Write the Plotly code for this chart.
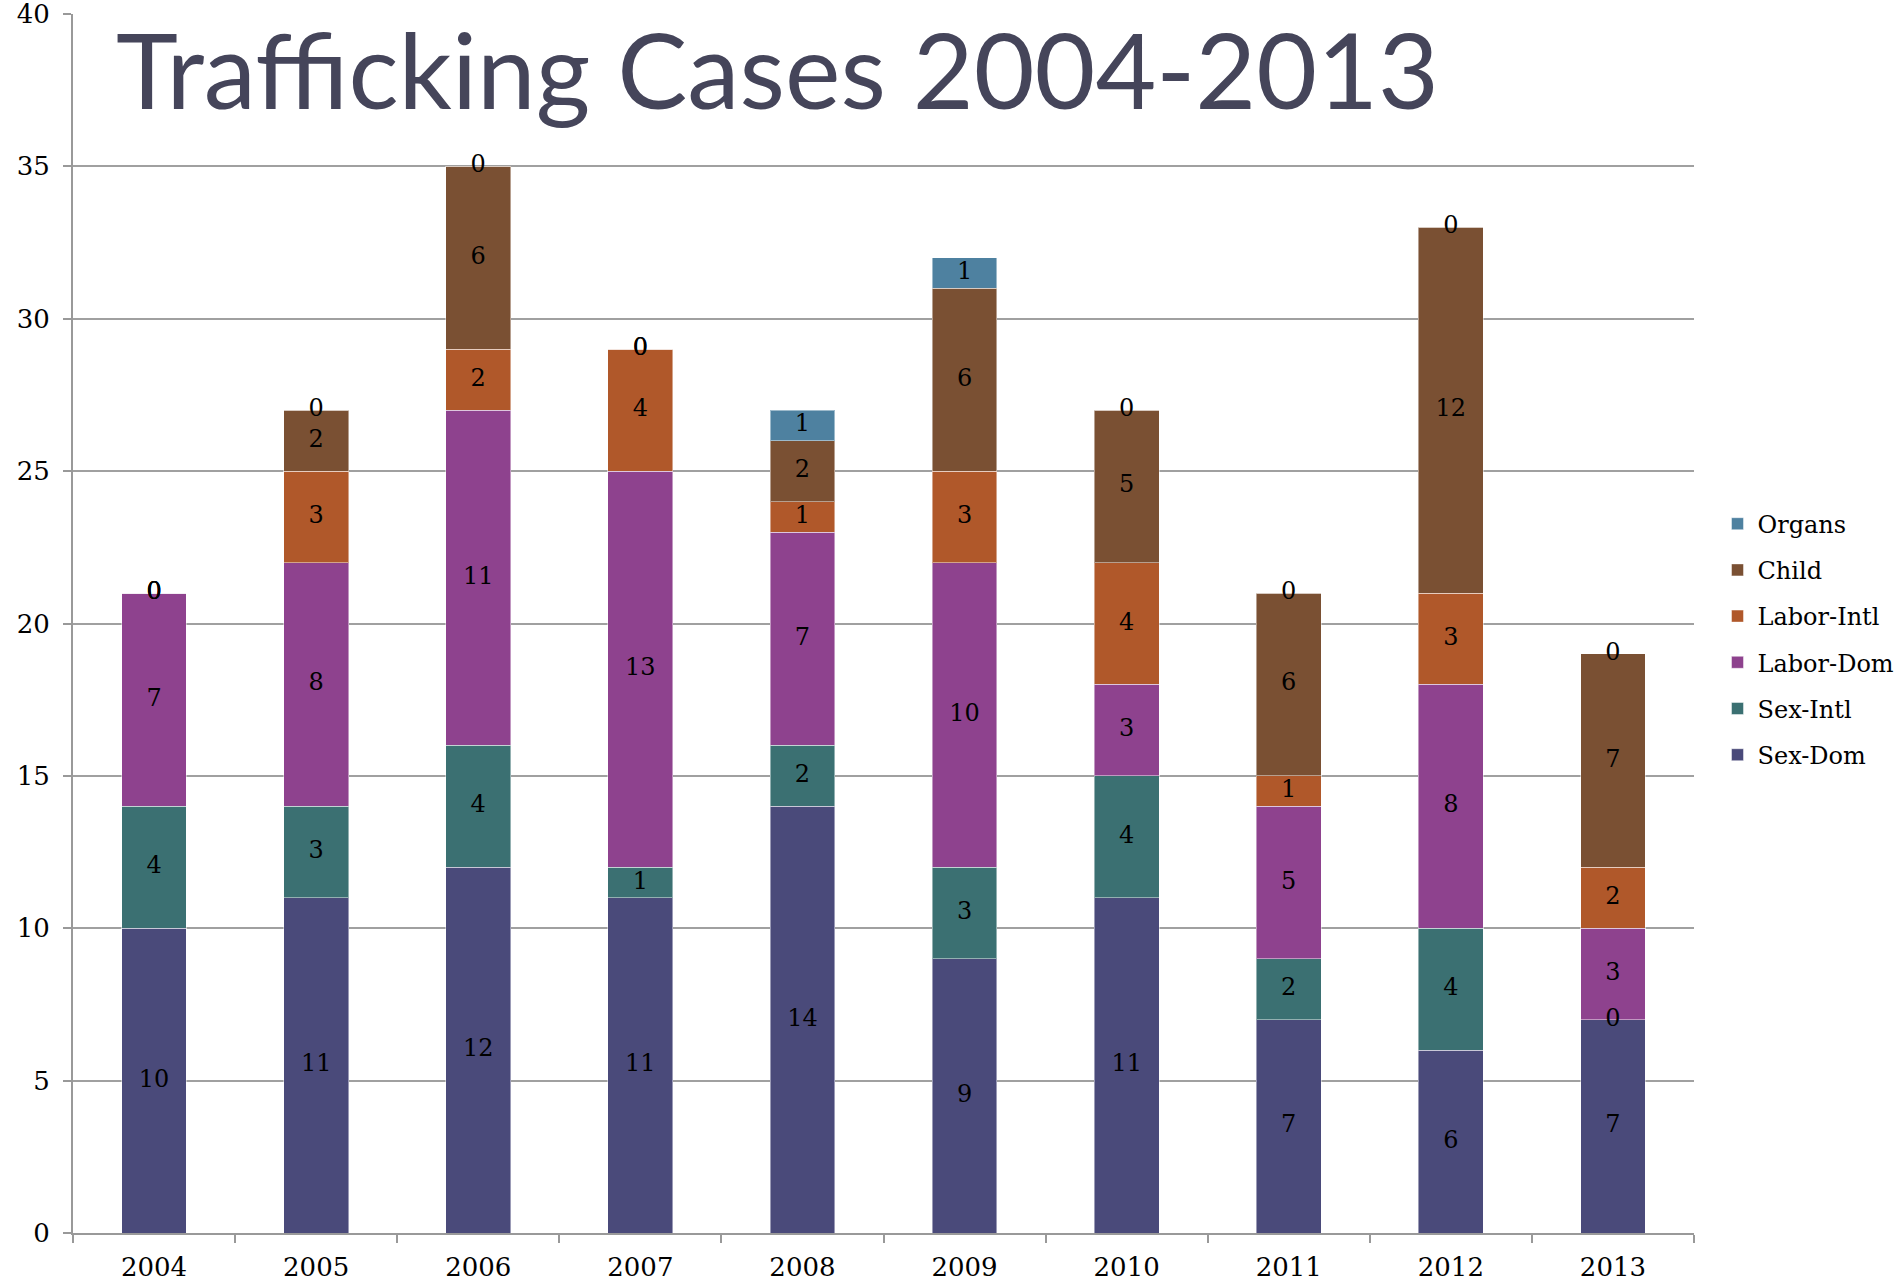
import plotly.graph_objects as go

years = ["2004", "2005", "2006", "2007", "2008", "2009", "2010", "2011", "2012", "2013"]
sex_dom = [10, 11, 12, 11, 14, 9, 11, 7, 6, 7]
sex_intl = [4, 3, 4, 1, 2, 3, 4, 2, 4, 0]
labor_dom = [7, 8, 11, 13, 7, 10, 3, 5, 8, 3]
labor_intl = [0, 3, 2, 4, 1, 3, 4, 1, 3, 2]
child = [0, 2, 6, 0, 2, 6, 5, 6, 12, 7]
organs = [0, 0, 0, 0, 1, 1, 0, 0, 0, 0]

series = [
    ("Sex-Dom", sex_dom, "#4a4a7a"),
    ("Sex-Intl", sex_intl, "#3b7072"),
    ("Labor-Dom", labor_dom, "#8e428e"),
    ("Labor-Intl", labor_intl, "#b0582a"),
    ("Child", child, "#7a5033"),
    ("Organs", organs, "#4e81a0"),
]

SERIF = "DejaVu Serif"
fig = go.Figure()

base = [0] * len(years)
lab_x, lab_y, lab_t = [], [], []
n = len(series)
for k, (name, vals, color) in enumerate(series):
    fig.add_trace(go.Bar(
        x=years, y=vals, name=name, legendgroup=name, legendrank=n - k,
        marker=dict(color=color, line=dict(color="rgba(255,255,255,0.45)", width=1)),
        hoverinfo="skip",
    ))
    for i, v in enumerate(vals):
        lab_x.append(years[i])
        lab_y.append(base[i] + v / 2)
        lab_t.append(str(v))
        base[i] += v

fig.add_trace(go.Scatter(
    x=lab_x, y=lab_y, text=lab_t, mode="text",
    textfont=dict(family=SERIF, size=24, color="black"),
    showlegend=False, hoverinfo="skip",
))

fig.add_annotation(
    text="Trafficking Cases 2004-2013", xref="paper", yref="paper",
    x=0.025, y=1.0093, xanchor="left", yanchor="top", showarrow=False,
    font=dict(family="Lato", size=105, color="#45455a"),
)

fig.update_layout(
    barmode="stack", bargap=0.6,
    width=1901, height=1282,
    margin=dict(l=73, r=207, t=14, b=49, autoexpand=False),
    plot_bgcolor="white", paper_bgcolor="white",
    showlegend=True,
    legend=dict(
        x=1.0145, y=0.600, xanchor="left", yanchor="top",
        traceorder="grouped", tracegroupgap=12,
        font=dict(family=SERIF, size=24, color="black"),
        itemwidth=30,
    ),
    xaxis=dict(
        type="category", showgrid=False, automargin=False,
        showline=True, linecolor="#999999", linewidth=2,
        ticks="outside", tickson="boundaries", ticklen=8, tickcolor="#999999", tickwidth=2,
        ticklabelstandoff=10,
        tickfont=dict(family=SERIF, size=26, color="black"),
        range=[-0.5, 9.5],
    ),
    yaxis=dict(
        range=[0, 40], dtick=5, automargin=False,
        showgrid=True, gridcolor="#a0a0a0", gridwidth=2,
        showline=True, linecolor="#999999", linewidth=2,
        ticks="outside", ticklen=8, tickcolor="#999999", tickwidth=2,
        ticklabelstandoff=8, ticklabeloverflow="allow",
        tickfont=dict(family=SERIF, size=26, color="black"),
        zeroline=False,
    ),
)

fig.write_html(
    "out.html",
    config={"displayModeBar": False},
    post_script="document.body.style.margin='0';document.body.style.overflow='hidden';",
)
